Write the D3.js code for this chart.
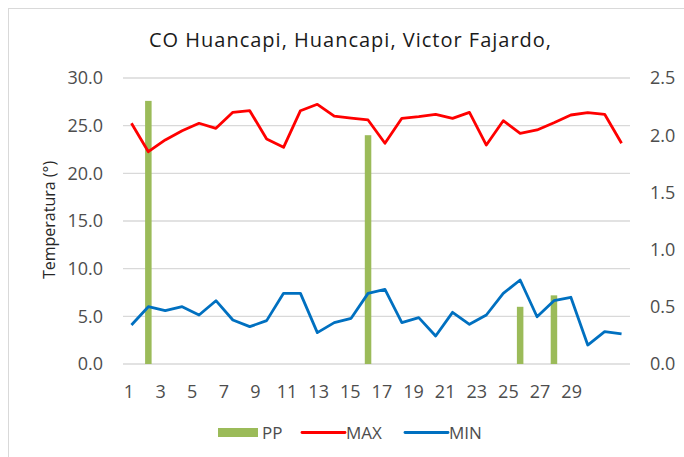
<!DOCTYPE html>
<html><head><meta charset="utf-8">
<script src="https://cdn.jsdelivr.net/npm/d3@7"></script>
<style>html,body{margin:0;padding:0;background:#fff;} svg{display:block;font-family:"Open Sans",Lato,sans-serif;}</style>
</head><body>
<script>
const days = d3.range(1, 31);
const maxT = [25.25,22.27,23.5,24.47,25.25,24.72,26.4,26.57,23.6,22.73,26.57,27.24,26.0,25.8,25.6,23.15,25.77,25.94,26.19,25.77,26.4,22.97,25.52,24.2,24.55,25.31,26.12,26.36,26.19,23.15];
const minT = [4.09,6.01,5.59,6.01,5.14,6.64,4.62,3.92,4.55,7.41,7.41,3.29,4.34,4.79,7.41,7.83,4.34,4.86,2.94,5.42,4.16,5.14,7.41,8.81,4.96,6.64,7.0,1.99,3.39,3.15];
const ppDays = [2, 15, 24, 26];
const ppVals = [2.3, 2.0, 0.5, 0.6];
const leftTicks = [0,5,10,15,20,25,30];
const rightTicks = [0,0.5,1.0,1.5,2.0,2.5];
const xLabelCats = d3.range(1, 33);
const xLabels = d3.range(1, 30, 2);
const title = "CO Huancapi, Huancapi, Victor Fajardo,";

const W = 684, H = 457;
const m = {l:123, r:630, t:78, b:364};
const svg = d3.select("body").append("svg").attr("width", W).attr("height", H);
svg.append("rect").attr("x",8.5).attr("y",8.5).attr("width",W).attr("height",H).attr("fill","#fff").attr("stroke","#d9d9d9");

const x = d3.scaleBand().domain(days).range([m.l, m.r]);
const xl = d3.scaleBand().domain(xLabelCats).range([m.l-2, m.r-3]);
const yL = d3.scaleLinear().domain([0,30]).range([m.b, m.t]);
const yR = d3.scaleLinear().domain([0,2.5]).range([m.b, m.t]);

svg.append("g").selectAll("line").data(leftTicks).join("line")
  .attr("x1", m.l).attr("x2", m.r).attr("y1", d=>yL(d)).attr("y2", d=>yL(d))
  .attr("stroke","#d9d9d9").attr("stroke-width",1.3);

svg.append("g").attr("font-size",18).attr("fill","#4d4d4d").attr("text-anchor","end")
  .selectAll("text").data(leftTicks).join("text")
  .attr("x",103).attr("y",d=>yL(d)).attr("dy","0.36em").text(d=>d.toFixed(1));
svg.append("g").attr("font-size",18).attr("fill","#4d4d4d").attr("text-anchor","start")
  .selectAll("text").data(rightTicks).join("text")
  .attr("x",650).attr("y",d=>yR(d)).attr("dy","0.36em").text(d=>d.toFixed(1));
svg.append("g").attr("font-size",18).attr("fill","#4d4d4d").attr("text-anchor","middle")
  .selectAll("text").data(xLabels).join("text")
  .attr("x",d=>xl(d)+xl.bandwidth()/2).attr("y",397.5).text(d=>d);

svg.append("text").attr("transform","translate(55,220) rotate(-90)").attr("text-anchor","middle")
  .attr("font-size",16).attr("fill","#262626").text("Temperatura (°)");
svg.append("text").attr("x",350.5).attr("y",46.7).attr("text-anchor","middle")
  .attr("font-size",20).attr("letter-spacing",1).attr("fill","#1a1a1a").text(title);

const bw = 6.5;
svg.append("g").selectAll("rect").data(ppDays.map((d,i)=>({d, v:ppVals[i]}))).join("rect")
  .attr("x", d=>x(d.d)+x.bandwidth()/2-bw/2).attr("width",bw)
  .attr("y", d=>yR(d.v)).attr("height", d=>yR(0)-yR(d.v)).attr("fill","#9bbb59");

const line = (arr)=>d3.line().x((d,i)=>x(days[i])+x.bandwidth()/2).y(d=>yL(d))(arr);
svg.append("path").attr("d", line(maxT)).attr("fill","none").attr("stroke","#ff0000").attr("stroke-width",2.8).attr("stroke-linejoin","round");
svg.append("path").attr("d", line(minT)).attr("fill","none").attr("stroke","#0070c0").attr("stroke-width",2.8).attr("stroke-linejoin","round");

const lg = svg.append("g").attr("font-size",17).attr("fill","#4d4d4d");
lg.append("rect").attr("x",218).attr("y",428).attr("width",40).attr("height",9).attr("fill","#9bbb59");
lg.append("text").attr("x",262).attr("y",432.5).attr("dy","0.36em").text("PP");
lg.append("line").attr("x1",302).attr("x2",345).attr("y1",432.5).attr("y2",432.5).attr("stroke","#ff0000").attr("stroke-width",2.8).attr("stroke-linecap","round");
lg.append("text").attr("x",346).attr("y",432.5).attr("dy","0.36em").text("MAX");
lg.append("line").attr("x1",405).attr("x2",448).attr("y1",432.5).attr("y2",432.5).attr("stroke","#0070c0").attr("stroke-width",2.8).attr("stroke-linecap","round");
lg.append("text").attr("x",449).attr("y",432.5).attr("dy","0.36em").text("MIN");
</script>
</body></html>
